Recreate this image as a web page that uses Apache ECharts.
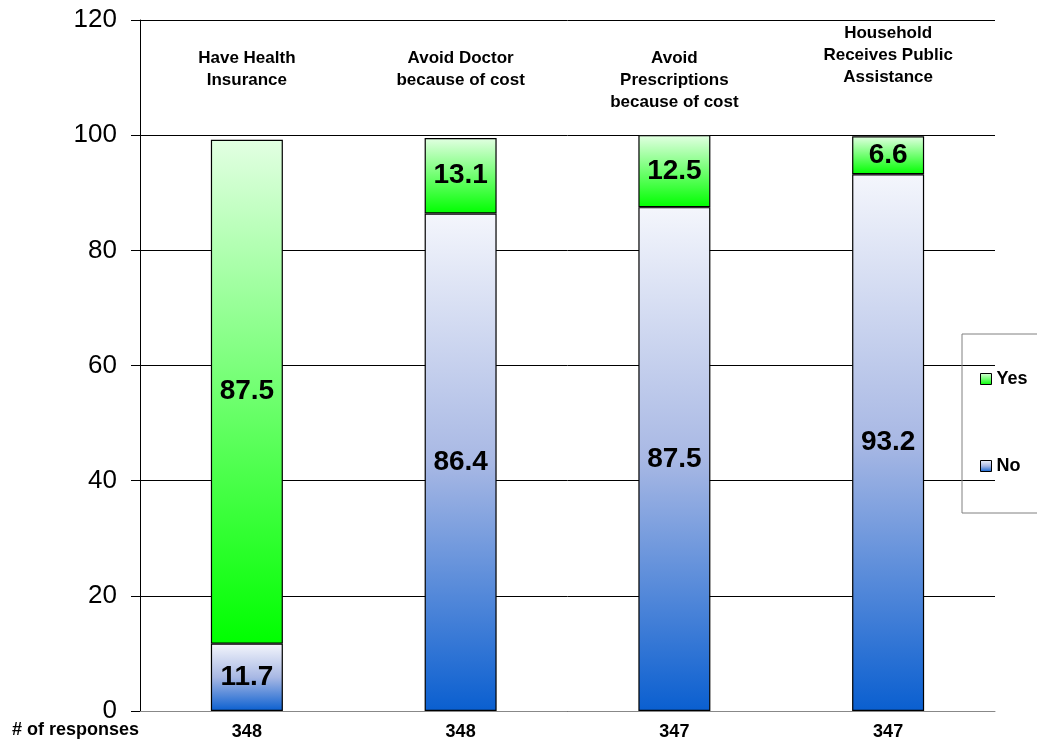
<!DOCTYPE html>
<html><head><meta charset="utf-8">
<script src="https://cdn.jsdelivr.net/npm/echarts@6/dist/echarts.min.js"></script>
<style>html,body{margin:0;padding:0;background:#fff}#c{width:1037px;height:749px}</style>
</head><body><div id="c"></div>
<script>
const categories = ['Have Health\nInsurance', 'Avoid Doctor\nbecause of cost', 'Avoid\nPrescriptions\nbecause of cost', 'Household\nReceives Public\nAssistance'];
const responses = ['348', '348', '347', '347'];
const yesValues = [87.5, 13.1, 12.5, 6.6];
const noValues = [11.7, 86.4, 87.5, 93.2];
const yTicks = [0, 20, 40, 60, 80, 100, 120];

const chart = echarts.init(document.getElementById('c'));
const FONT = 'Liberation Sans, Arial, sans-serif';
const green = new echarts.graphic.LinearGradient(0, 0, 0, 1, [
  {offset: 0, color: '#e2ffe2'}, {offset: 1, color: '#00ff00'}]);
const blue = new echarts.graphic.LinearGradient(0, 0, 0, 1, [
  {offset: 0, color: '#f4f6fc'}, {offset: 0.5, color: '#a8b8e4'}, {offset: 1, color: '#0a5fd0'}]);
const titleStyle = {fontSize: 17, fontWeight: 'bold', color: '#000', lineHeight: 22, fontFamily: FONT};
chart.setOption({
  animation: false,
  textStyle: {fontFamily: FONT},
  grid: {left: 140, right: 42, top: 20, bottom: 38},
  legend: {
    orient: 'vertical', left: 962, top: 334,
    data: ['Yes', 'No'],
    icon: 'rect',
    itemWidth: 11, itemHeight: 11, itemGap: 69,
    padding: [36, 40, 38, 18],
    borderColor: '#808080', borderWidth: 1,
    textStyle: {fontSize: 18, fontWeight: 'bold', color: '#000', fontFamily: FONT},
    itemStyle: {borderColor: '#000', borderWidth: 1}
  },
  xAxis: [{
    type: 'category', data: categories, position: 'bottom',
    axisLine: {lineStyle: {color: '#888'}}, axisTick: {show: false},
    axisLabel: {formatter: (v, i) => responses[i], fontSize: 18, fontWeight: 'bold', color: '#000', margin: 12, fontFamily: FONT}
  }, {
    type: 'category', data: categories, position: 'top',
    axisLine: {show: false}, axisTick: {show: false},
    axisLabel: {
      inside: true, margin: 2, verticalAlign: 'top', interval: 0,
      formatter: (v, i) => (i < 3 ? '{sp|}\n' : '') + '{t|' + v.split('\n').join('}\n{t|') + '}',
      rich: {
        t: titleStyle,
        sp: {fontSize: 17, lineHeight: 25}
      }
    }
  }],
  yAxis: {
    type: 'value', min: 0, max: 120, interval: 20,
    axisLine: {show: true, lineStyle: {color: '#000'}},
    axisTick: {show: true, length: 9, lineStyle: {color: '#000'}},
    axisLabel: {fontSize: 26, color: '#000', margin: 23, fontFamily: FONT,
      formatter: v => yTicks.includes(v) ? String(v) : ''},
    splitLine: {lineStyle: {color: '#000', width: 1}}
  },
  graphic: [{
    type: 'text', left: 12, top: 721,
    style: {text: '# of responses', fontSize: 18, fontWeight: 'bold', fill: '#000', fontFamily: FONT}
  }],
  series: [{
    name: 'No', type: 'bar', stack: 's', data: noValues, barWidth: 72,
    itemStyle: {color: blue, borderColor: '#000', borderWidth: 1.2},
    label: {show: true, position: 'inside', fontSize: 28, fontWeight: 'bold', color: '#000', fontFamily: FONT,
      formatter: p => p.value.toFixed(1)}
  }, {
    name: 'Yes', type: 'bar', stack: 's', data: yesValues, barWidth: 72,
    itemStyle: {color: green, borderColor: '#000', borderWidth: 1.2},
    label: {show: true, position: 'inside', fontSize: 28, fontWeight: 'bold', color: '#000', fontFamily: FONT,
      formatter: p => p.value.toFixed(1)}
  }]
});
</script></body></html>
